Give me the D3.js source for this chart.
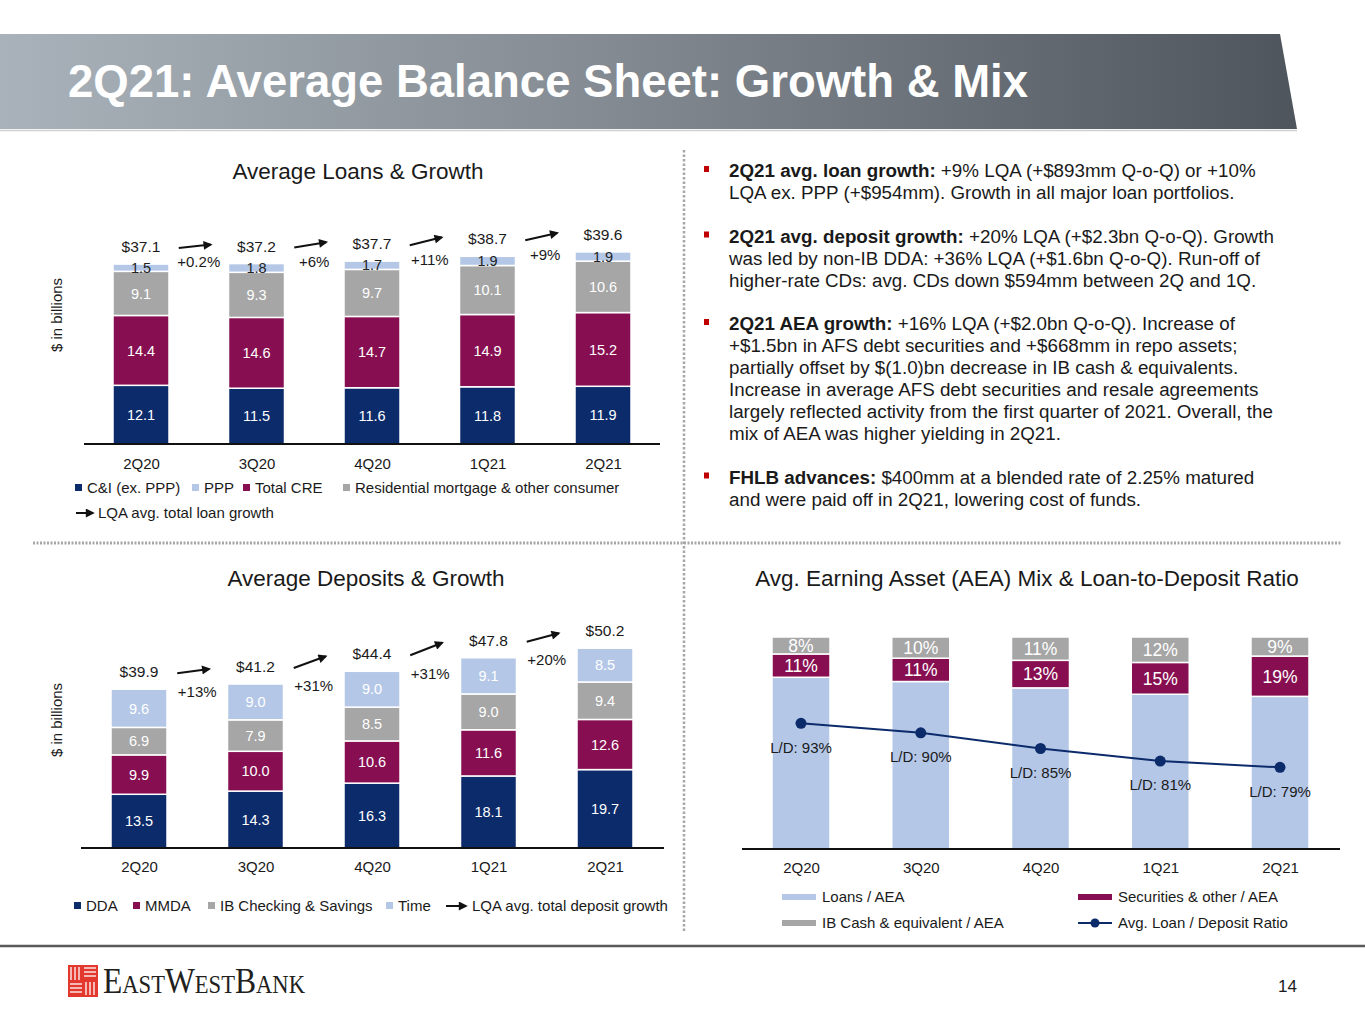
<!DOCTYPE html>
<html><head><meta charset="utf-8">
<script src="https://cdn.jsdelivr.net/npm/d3@7"></script>
<style>
body{margin:0;background:#fff}
svg{display:block;font-family:"Liberation Sans",Arial,sans-serif}
</style>
</head><body>
<svg id="c" width="1365" height="1024"></svg>
<script>
// ---------------- DATA ----------------
const quarters = ["2Q20","3Q20","4Q20","1Q21","2Q21"];

const loanCI   = [12.1, 11.5, 11.6, 11.8, 11.9];
const loanCRE  = [14.4, 14.6, 14.7, 14.9, 15.2];
const loanResi = [9.1, 9.3, 9.7, 10.1, 10.6];
const loanPPP  = [1.5, 1.8, 1.7, 1.9, 1.9];
const loanGrowth = ["+0.2%", "+6%", "+11%", "+9%"];

const depDDA  = [13.5, 14.3, 16.3, 18.1, 19.7];
const depMMDA = [9.9, 10.0, 10.6, 11.6, 12.6];
const depIB   = [6.9, 7.9, 8.5, 9.0, 9.4];
const depTime = [9.6, 9.0, 9.0, 9.1, 8.5];
const depGrowth = ["+13%", "+31%", "+31%", "+20%"];

const aeaLoans = [81, 79, 76, 73, 72];
const aeaSec   = [11, 11, 13, 15, 19];
const aeaCash  = [8, 10, 11, 12, 9];
const ldRatio  = [93, 90, 85, 81, 79];

const loanLegend = ["C&I (ex. PPP)", "PPP", "Total CRE", "Residential mortgage & other consumer"];
const depLegend  = ["DDA", "MMDA", "IB Checking & Savings", "Time"];
const aeaLegend  = ["Loans / AEA", "Securities & other / AEA", "IB Cash & equivalent / AEA", "Avg. Loan / Deposit Ratio"];

const pageTitle = "2Q21: Average Balance Sheet: Growth & Mix";
const bullets = [
  [["2Q21 avg. loan growth:", " +9% LQA (+$893mm Q-o-Q) or +10%"],
   ["", "LQA ex. PPP (+$954mm). Growth in all major loan portfolios."]],
  [["2Q21 avg. deposit growth:", " +20% LQA (+$2.3bn Q-o-Q). Growth"],
   ["", "was led by non-IB DDA: +36% LQA (+$1.6bn Q-o-Q). Run-off of"],
   ["", "higher-rate CDs: avg. CDs down $594mm between 2Q and 1Q."]],
  [["2Q21 AEA growth:", " +16% LQA (+$2.0bn Q-o-Q). Increase of"],
   ["", "+$1.5bn in AFS debt securities and +$668mm in repo assets;"],
   ["", "partially offset by $(1.0)bn decrease in IB cash & equivalents."],
   ["", "Increase in average AFS debt securities and resale agreements"],
   ["", "largely reflected activity from the first quarter of 2021. Overall, the"],
   ["", "mix of AEA was higher yielding in 2Q21."]],
  [["FHLB advances:", " $400mm at a blended rate of 2.25% matured"],
   ["", "and were paid off in 2Q21, lowering cost of funds."]]
];

// ---------------- STYLE ----------------
const NAVY = "#0c2b6b", MAROON = "#870f51", GRAY = "#a6a6a6", LBLUE = "#b4c7e7";
const TXT = "#1a1a1a";
const svg = d3.select("#c");

const defs = svg.append("defs");
const grad = defs.append("linearGradient").attr("id","bannerGrad").attr("x1","0").attr("x2","1").attr("y1","0").attr("y2","0");
grad.append("stop").attr("offset","0").attr("stop-color","#a9b2ba");
grad.append("stop").attr("offset","0.45").attr("stop-color","#858c93");
grad.append("stop").attr("offset","1").attr("stop-color","#4f555d");
defs.append("marker").attr("id","ah").attr("viewBox","0 0 10 10")
  .attr("refX",8).attr("refY",5).attr("markerWidth",10).attr("markerHeight",9)
  .attr("markerUnits","userSpaceOnUse").attr("orient","auto")
  .append("path").attr("d","M0,0L10,5L0,10z").attr("fill","#111");

// ---------------- BANNER ----------------
svg.append("path").attr("d","M0,34 L1280,34 L1297,129 L0,129 Z").attr("fill","url(#bannerGrad)");
svg.append("line").attr("x1",0).attr("x2",1297).attr("y1",130.5).attr("y2",130.5).attr("stroke","#d0d0d0").attr("stroke-width",1.5);
svg.append("text").attr("x",68).attr("y",97).attr("fill","#fff").attr("font-weight","bold")
  .attr("font-size",45.5).text(pageTitle);

// ---------------- DIVIDERS ----------------
svg.append("line").attr("x1",684).attr("x2",684).attr("y1",150).attr("y2",932)
  .attr("stroke","#a6a6a6").attr("stroke-width",2.5).attr("stroke-dasharray","2.5,2");
svg.append("line").attr("x1",33).attr("x2",1342).attr("y1",543).attr("y2",543)
  .attr("stroke","#a6a6a6").attr("stroke-width",3).attr("stroke-dasharray","2,1.5");
svg.append("line").attr("x1",0).attr("x2",1365).attr("y1",946).attr("y2",946)
  .attr("stroke","#595959").attr("stroke-width",2.5);

// ---------------- HELPERS ----------------
function title(x, y, t){
  svg.append("text").attr("x",x).attr("y",y).attr("text-anchor","middle")
    .attr("font-size",22.5).attr("fill",TXT).text(t);
}
function yTitle(x, y, t){
  svg.append("text").attr("transform",`translate(${x},${y}) rotate(-90)`)
    .attr("text-anchor","middle").attr("font-size",15).attr("fill",TXT).text(t);
}
function arrow(g, x1, y1, x2, y2){
  g.append("line").attr("x1",x1).attr("y1",y1).attr("x2",x2).attr("y2",y2)
    .attr("stroke","#111").attr("stroke-width",2).attr("marker-end","url(#ah)");
}
function xAxis(x, y, x0, x1, pad){
  const g = svg.append("g").attr("transform",`translate(0,${y})`)
    .call(d3.axisBottom(x).tickSize(0).tickPadding(pad));
  g.select(".domain").remove();
  g.selectAll("text").attr("font-size",15).attr("font-family","'Liberation Sans',Arial,sans-serif").attr("fill",TXT);
  svg.append("line").attr("x1",x0).attr("x2",x1).attr("y1",y).attr("y2",y)
    .attr("stroke","#111").attr("stroke-width",1.8);
}

function stacked(opt){
  const {rows, keys, colors, labelColors, x, y, bw, growth, tailOff, headOff, growthOff} = opt;
  const g = svg.append("g");
  const series = d3.stack().keys(keys)(rows);
  series.forEach((s, si) => {
    g.selectAll(null).data(s).join("rect")
      .attr("x", d => x(d.data.q) - bw/2).attr("width", bw)
      .attr("y", d => y(d[1])).attr("height", d => y(d[0]) - y(d[1]))
      .attr("fill", colors[si]).attr("stroke","#fff").attr("stroke-width",1.5);
  });
  series.forEach((s, si) => {
    g.selectAll(null).data(s).join("text")
      .attr("x", d => x(d.data.q)).attr("y", d => (y(d[0]) + y(d[1]))/2).attr("dy","0.36em")
      .attr("text-anchor","middle").attr("font-size",14.5).attr("fill", labelColors[si])
      .text(d => d.data[keys[si]].toFixed(1));
  });
  const totals = rows.map(r => d3.sum(keys, k => r[k]));
  g.selectAll(null).data(rows).join("text")
    .attr("x", d => x(d.q)).attr("y", (d,i) => y(totals[i]) - 12)
    .attr("text-anchor","middle").attr("font-size",15.5).attr("fill",TXT)
    .text((d,i) => "$" + totals[i].toFixed(1));
  growth.forEach((gr, i) => {
    const xm = (x(rows[i].q) + x(rows[i+1].q)) / 2;
    const ty = y(totals[i]) - tailOff, hy = y(totals[i+1]) - headOff;
    arrow(g, xm - 20, ty, xm + 12, hy);
    g.append("text").attr("x", xm).attr("y", ty + growthOff).attr("dy","0.36em")
      .attr("text-anchor","middle").attr("font-size",15).attr("fill",TXT).text(gr);
  });
}

function squareLegend(items, colors, xs, y){
  items.forEach((t, i) => {
    svg.append("rect").attr("x", xs[i] - 12).attr("y", y - 4).attr("width",7).attr("height",7).attr("fill", colors[i]);
    svg.append("text").attr("x", xs[i]).attr("y", y).attr("dy","0.36em").attr("font-size",15).attr("fill",TXT).text(t);
  });
}

// ---------------- LOANS ----------------
title(358, 179, "Average Loans & Growth");
yTitle(62, 315, "$ in billions");
const loanRows = quarters.map((q,i) => ({q, ci: loanCI[i], cre: loanCRE[i], resi: loanResi[i], ppp: loanPPP[i]}));
const xL = d3.scalePoint().domain(quarters).range([141, 603]);
const yL = d3.scaleLinear().domain([0, 40]).range([444, 250]);
stacked({rows: loanRows, keys: ["ci","cre","resi","ppp"], colors: [NAVY, MAROON, GRAY, LBLUE],
  labelColors: ["#fff","#fff","#fff","#222"], x: xL, y: yL, bw: 56, growth: loanGrowth,
  tailOff: 16, headOff: 19, growthOff: 14});
xAxis(xL, 444, 84, 660, 14);
squareLegend(loanLegend, [NAVY, LBLUE, MAROON, GRAY], [87, 204, 255, 355], 488);
arrow(svg, 76, 513, 93, 513);
svg.append("text").attr("x",98).attr("y",513).attr("dy","0.36em").attr("font-size",15).attr("fill",TXT).text("LQA avg. total loan growth");

// ---------------- DEPOSITS ----------------
title(366, 586, "Average Deposits & Growth");
yTitle(62, 720, "$ in billions");
const depRows = quarters.map((q,i) => ({q, dda: depDDA[i], mmda: depMMDA[i], ib: depIB[i], time: depTime[i]}));
const xD = d3.scalePoint().domain(quarters).range([139, 605]);
const yD = d3.scaleLinear().domain([0, 50]).range([848, 649]);
stacked({rows: depRows, keys: ["dda","mmda","ib","time"], colors: [NAVY, MAROON, GRAY, LBLUE],
  labelColors: ["#fff","#fff","#fff","#fff"], x: xD, y: yD, bw: 56, growth: depGrowth,
  tailOff: 16, headOff: 15, growthOff: 18});
xAxis(xD, 848, 81, 664, 13);
squareLegend(depLegend, [NAVY, MAROON, GRAY, LBLUE], [86, 145, 220, 398], 906);
arrow(svg, 446, 906, 466, 906);
svg.append("text").attr("x",472).attr("y",906).attr("dy","0.36em").attr("font-size",15).attr("fill",TXT).text("LQA avg. total deposit growth");

// ---------------- AEA ----------------
title(1027, 586, "Avg. Earning Asset (AEA) Mix & Loan-to-Deposit Ratio");
const aeaRows = quarters.map((q,i) => ({q, loans: aeaLoans[i], sec: aeaSec[i], cash: aeaCash[i], ld: ldRatio[i]}));
const xA = d3.scalePoint().domain(quarters).range([801, 1280]);
const yA = d3.scaleLinear().domain([0, 100]).range([849, 637]);
const yLD = d3.scaleLinear().domain([53, 120.5]).range([849, 637]);
const aeaKeys = ["loans","sec","cash"], aeaColors = [LBLUE, MAROON, GRAY];
const gA = svg.append("g");
const aSeries = d3.stack().keys(aeaKeys)(aeaRows);
aSeries.forEach((s, si) => {
  gA.selectAll(null).data(s).join("rect")
    .attr("x", d => xA(d.data.q) - 29).attr("width", 58)
    .attr("y", d => yA(d[1])).attr("height", d => yA(d[0]) - yA(d[1]))
    .attr("fill", aeaColors[si]).attr("stroke","#fff").attr("stroke-width",1.5);
});
aSeries.slice(1).forEach((s, si) => {
  gA.selectAll(null).data(s).join("text")
    .attr("x", d => xA(d.data.q)).attr("y", d => (yA(d[0]) + yA(d[1]))/2).attr("dy","0.36em")
    .attr("text-anchor","middle").attr("font-size",17.5).attr("fill","#fff")
    .text(d => d.data[aeaKeys[si+1]] + "%");
});
xAxis(xA, 849, 742, 1340, 13);
gA.append("path").datum(aeaRows)
  .attr("d", d3.line().x(d => xA(d.q)).y(d => yLD(d.ld)))
  .attr("fill","none").attr("stroke", NAVY).attr("stroke-width",2);
gA.selectAll(null).data(aeaRows).join("circle")
  .attr("cx", d => xA(d.q)).attr("cy", d => yLD(d.ld)).attr("r",5.5).attr("fill", NAVY);
gA.selectAll(null).data(aeaRows).join("text")
  .attr("x", d => xA(d.q)).attr("y", d => yLD(d.ld) + 24).attr("dy","0.36em")
  .attr("text-anchor","middle").attr("font-size",15).attr("fill",TXT)
  .text(d => "L/D: " + d.ld + "%");
// legend
[[782, 897, LBLUE, 0], [1078, 897, MAROON, 1], [782, 923, GRAY, 2]].forEach(([lx, ly, c, i]) => {
  svg.append("rect").attr("x", lx).attr("y", ly - 3).attr("width",34).attr("height",6).attr("fill", c);
  svg.append("text").attr("x", lx + 40).attr("y", ly).attr("dy","0.36em").attr("font-size",15).attr("fill",TXT).text(aeaLegend[i]);
});
svg.append("line").attr("x1",1078).attr("x2",1112).attr("y1",923).attr("y2",923).attr("stroke",NAVY).attr("stroke-width",2);
svg.append("circle").attr("cx",1095).attr("cy",923).attr("r",4.5).attr("fill",NAVY);
svg.append("text").attr("x",1118).attr("y",923).attr("dy","0.36em").attr("font-size",15).attr("fill",TXT).text(aeaLegend[3]);

// ---------------- TEXT PANEL ----------------
let ty = 177;
bullets.forEach(par => {
  svg.append("rect").attr("x",704).attr("y",ty - 11).attr("width",5).attr("height",6).attr("fill","#c00000");
  par.forEach(([b, r]) => {
    const t = svg.append("text").attr("x",729).attr("y",ty).attr("font-size",18.8).attr("fill",TXT);
    if (b) t.append("tspan").attr("font-weight","bold").text(b);
    t.append("tspan").text(r);
    ty += 22;
  });
  ty += 21.5;
});

// ---------------- FOOTER ----------------
const logo = svg.append("g").attr("transform","translate(68,965)");
logo.append("rect").attr("width",30).attr("height",32).attr("fill","#e2382e");
const stripes = [];
for (let k = 0; k < 3; k++) {
  stripes.push([3 + k*4, 2, 3 + k*4, 15]);     // TL vertical
  stripes.push([16, 3 + k*4, 28, 3 + k*4]);    // TR horizontal
  stripes.push([2, 19 + k*4, 14, 19 + k*4]);   // BL horizontal
  stripes.push([18 + k*4, 17, 18 + k*4, 30]);  // BR vertical
}
logo.selectAll(null).data(stripes).join("line")
  .attr("x1", d => d[0]).attr("y1", d => d[1]).attr("x2", d => d[2]).attr("y2", d => d[3])
  .attr("stroke","#fff").attr("stroke-width",1.3);
svg.append("text").attr("x",103).attr("y",993).attr("fill","#231f20")
  .attr("font-family","'Liberation Serif','DejaVu Serif',serif")
  .attr("font-size",35).style("font-variant","small-caps")
  .attr("textLength",202).attr("lengthAdjust","spacingAndGlyphs")
  .text("EastWestBank");
svg.append("text").attr("x",1297).attr("y",992).attr("text-anchor","end").attr("font-size",17).attr("fill",TXT).text("14");
</script>
</body></html>
